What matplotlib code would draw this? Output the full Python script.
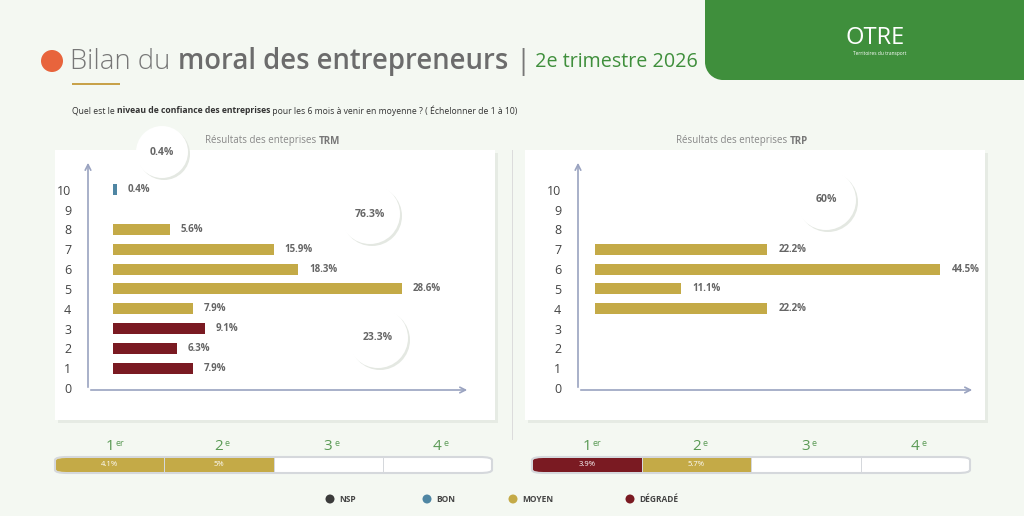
import matplotlib
matplotlib.use("Agg")
import matplotlib.pyplot as plt
from matplotlib.patches import FancyBboxPatch, Ellipse, Rectangle

# ---- data ----
levels = [0, 1, 2, 3, 4, 5, 6, 7, 8, 9, 10]
trm_levels = [10, 8, 7, 6, 5, 4, 3, 2, 1]
trm_values = [0.4, 5.6, 15.9, 18.3, 28.6, 7.9, 9.1, 6.3, 7.9]
trm_cats = ["BON", "MOYEN", "MOYEN", "MOYEN", "MOYEN", "MOYEN", "DÉGRADÉ", "DÉGRADÉ", "DÉGRADÉ"]
trp_levels = [7, 6, 5, 4]
trp_values = [22.2, 44.5, 11.1, 22.2]
trp_cats = ["MOYEN"] * 4
quarters = ["1", "2", "3", "4"]
quarter_sup = ["er", "e", "e", "e"]
trm_quarter_vals = [4.1, 5.0, None, None]
trm_quarter_cats = ["MOYEN", "MOYEN", None, None]
trp_quarter_vals = [3.9, 5.7, None, None]
trp_quarter_cats = ["DÉGRADÉ", "MOYEN", None, None]
legend_cats = ["NSP", "BON", "MOYEN", "DÉGRADÉ"]

colors = {"NSP": "#3b3b3b", "BON": "#4f86a3", "MOYEN": "#c4aa47", "DÉGRADÉ": "#7a1a22"}
BG = "#f4f8f2"
W, H = 1024, 516
plt.rcParams['font.family'] = ['Open Sans', 'DejaVu Sans']

fig = plt.figure(figsize=(W/100, H/100), dpi=100, facecolor=BG)

def fx(px): return px / W
def fy(py): return 1 - py / H

def rect(x0, y0, x1, y1, z=1, **kw):
    fig.patches.append(Rectangle((fx(x0), fy(y1)), fx(x1) - fx(x0), fy(y0) - fy(y1),
                                 transform=fig.transFigure, zorder=z, **kw))

def circ(cx, cy, rad, z=3, **kw):
    fig.patches.append(Ellipse((fx(cx), fy(cy)), 2 * rad / W, 2 * rad / H,
                               transform=fig.transFigure, zorder=z, **kw))

# green header block
G = "#3f8f3c"
rect(705, 0, 1024, 62, facecolor=G, edgecolor="none")
rect(722, 62, 1024, 80, facecolor=G, edgecolor="none")
circ(723, 62, 18, z=1, facecolor=G, edgecolor="none")
fig.text(fx(875), fy(38), "OTRE", color="white", fontsize=17, ha="center", va="center")
fig.text(fx(880), fy(53), "Territoires du transport", color="white", fontsize=3.5, ha="center", va="center")

# panels
for x0, x1 in [(55, 495), (525, 985)]:
    rect(x0 + 3, 153, x1 + 3, 423, facecolor="#e6ebe4", edgecolor="none")
    rect(x0, 150, x1, 420, facecolor="white", edgecolor="none")
rect(512, 150, 513, 440, facecolor="#dcdcdc", edgecolor="none")

# title chained
fig.canvas.draw()
r = fig.canvas.get_renderer()
circ(52, 61, 11, z=2, facecolor="#e8643c", edgecolor="none")
x = 70
for txt, kw in [("Bilan du ", dict(color="#777777", fontsize=19.8, fontweight="light")),
                ("moral des entrepreneurs ", dict(color="#6c6c6c", fontsize=19.8, fontweight="semibold")),
                ("|", dict(color="#777777", fontsize=19.8)),
                (" 2e trimestre 2026", dict(color=G, fontsize=14.2))]:
    t = fig.text(fx(x), fy(62), txt, va="center", ha="left", **kw)
    bb = t.get_window_extent(r)
    x += bb.width
rect(72, 83, 120, 85, facecolor="#c8a24a", edgecolor="none")

# question
x = 72
for txt, bold in [("Quel est le ", False), ("niveau de confiance des entreprises", True),
                  (" pour les 6 mois à venir en moyenne ? ( Échelonner de 1 à 10)", False)]:
    t = fig.text(fx(x), fy(111), txt, va="center", ha="left", fontsize=6.2, color="#333333",
                 fontweight="bold" if bold else "normal")
    x += t.get_window_extent(r).width

def chart(ax_px, xlim, levs, vals, cats, title_x, title_bold):
    x0, x1, ytop, ybot = ax_px
    ax = fig.add_axes([fx(x0), fy(ybot), fx(x1) - fx(x0), fy(ytop) - fy(ybot)], zorder=2)
    ax.set_facecolor("none")
    ax.barh(levs, vals, height=0.55, color=[colors[c] for c in cats], left=0)
    for l, v in zip(levs, vals):
        ax.text(v + xlim[1] * 0.03, l, f"{v}%", va="center", ha="left", fontsize=7,
                fontweight="bold", color="#666666")
    ax.set_xlim(*xlim)
    ax.set_ylim(-0.1, 11.5)
    ax.set_yticks(levels)
    ax.set_yticklabels([str(v) for v in levels], fontsize=9, color="#444444")
    ax.tick_params(axis="y", length=0, pad=12)
    ax.set_xticks([])
    for s in ["top", "right", "bottom", "left"]:
        ax.spines[s].set_visible(False)
    ax.annotate("", xy=(xlim[0], 11.5), xytext=(xlim[0], -0.1),
                arrowprops=dict(arrowstyle="->", color="#9aa3c0", lw=1.2))
    ax.annotate("", xy=(xlim[1], -0.1), xytext=(xlim[0], -0.1),
                arrowprops=dict(arrowstyle="->", color="#9aa3c0", lw=1.2))
    t = fig.text(fx(title_x), fy(141), "Résultats des enteprises ", fontsize=7, color="#888888",
                 ha="left", va="center")
    fig.text(fx(title_x) + t.get_window_extent(r).width / W, fy(141), title_bold, fontsize=7,
             color="#777777", fontweight="bold", ha="left", va="center")
    return ax

chart((88, 470, 160, 390), (-2.5, 35.3), trm_levels, trm_values, trm_cats, 205, "TRM")
chart((578, 975, 160, 390), (-2.2, 49.0), trp_levels, trp_values, trp_cats, 676, "TRP")

# bubbles (overlay)
for cx, cy, rad, lab in [(162, 152, 26, "0.4%"), (370, 214, 30, "76.3%"),
                         (378, 338, 30, "23.3%"), (826, 200, 30, "60%")]:
    circ(cx + 2, cy + 2, rad, z=5, facecolor="#e4e8e2", edgecolor="none")
    circ(cx, cy, rad, z=6, facecolor="white", edgecolor="none")
    fig.text(fx(cx), fy(cy), lab, ha="center", va="center", fontsize=7.5,
             fontweight="bold", color="#666666", zorder=7)

# quarter bars
def qbar(x0, x1, vals, cats):
    y0, y1 = 457, 473
    fig.patches.append(FancyBboxPatch((fx(x0), fy(y1)), fx(x1) - fx(x0), fy(y0) - fy(y1),
                                      boxstyle="round,pad=0,rounding_size=0.012",
                                      transform=fig.transFigure, facecolor="white",
                                      edgecolor="#d5d8dc", lw=1.5, mutation_aspect=0.5))
    seg = (x1 - x0) / 4
    for i, (v, c) in enumerate(zip(vals, cats)):
        sx = x0 + i * seg
        fig.text(fx(sx + seg / 2), fy(447), quarters[i], ha="center", va="center",
                 fontsize=11, color="#5a9a55")
        fig.text(fx(sx + seg / 2 + 6), fy(443), quarter_sup[i], ha="left", va="center",
                 fontsize=6.5, color="#5a9a55")
        if i > 0:
            rect(sx, y0, sx + 1, y1, z=2, facecolor="#d5d8dc", edgecolor="none")
        if v is not None:
            if i == 0:
                fig.patches.append(FancyBboxPatch((fx(sx + 1), fy(y1 - 1)), fx(seg - 1), fy(y0 + 1) - fy(y1 - 1),
                                                  boxstyle="round,pad=0,rounding_size=0.01",
                                                  transform=fig.transFigure, facecolor=colors[c],
                                                  edgecolor="none", mutation_aspect=0.5, zorder=2))
                rect(sx + seg / 2, y0 + 1, sx + seg, y1 - 1, z=2, facecolor=colors[c], edgecolor="none")
            else:
                rect(sx + 1, y0 + 1, sx + seg, y1 - 1, z=2, facecolor=colors[c], edgecolor="none")
            fig.text(fx(sx + seg / 2), fy((y0 + y1) / 2), f"{v:g}%",
                     ha="center", va="center", fontsize=5.5, color="white", zorder=3)

qbar(55, 492, trm_quarter_vals, trm_quarter_cats)
qbar(532, 970, trp_quarter_vals, trp_quarter_cats)

# legend
for lx, c in zip([330, 427, 513, 630], legend_cats):
    circ(lx, 499, 4.5, z=2, facecolor=colors[c], edgecolor="none")
    fig.text(fx(lx + 9), fy(499), c, ha="left", va="center", fontsize=6, fontweight="bold",
             color="#444444")

fig.savefig("out.png", dpi=100, facecolor=BG)
